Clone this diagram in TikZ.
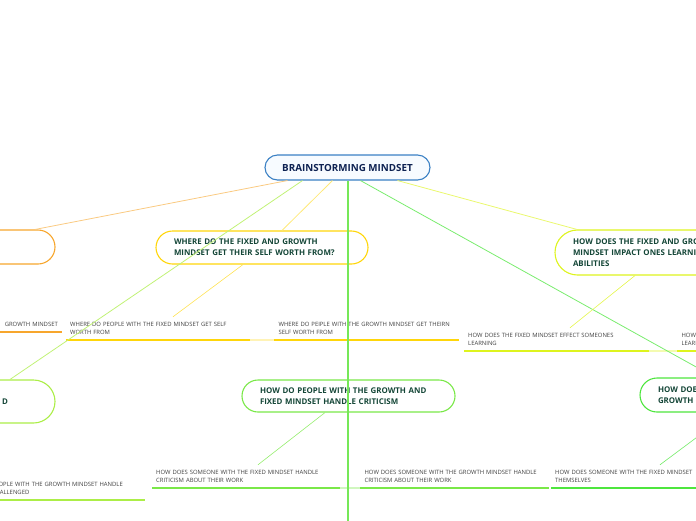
\documentclass[tikz,border=0pt]{standalone}
\usepackage{fontspec}
\setmainfont{Open Sans}
\usepackage{tikz}
\usetikzlibrary{positioning, calc}
\definecolor{rootblue}{RGB}{58, 128, 196}
\definecolor{rootfill}{RGB}{247, 251, 255}
\definecolor{rootnavy}{RGB}{14, 34, 82}
\definecolor{topicgreen}{RGB}{20, 70, 55}
\definecolor{leafgray}{RGB}{64, 64, 64}
\definecolor{branchorange}{RGB}{247, 166, 45}
\definecolor{branchyellow}{RGB}{255, 214, 10}
\definecolor{branchlime}{RGB}{222, 244, 30}
\definecolor{branchgreen}{RGB}{172, 238, 72}
\definecolor{branchmint}{RGB}{122, 232, 72}
\definecolor{branchbright}{RGB}{78, 230, 62}
\definecolor{trunkgreen}{RGB}{118, 232, 88}

\begin{document}
\begin{tikzpicture}[x=1pt, y=-1pt,
    topic/.style={draw, line width=1.1pt, fill=white, text=topicgreen,
        font=\bfseries\fontsize{7.9}{11}\selectfont, align=left,
        inner xsep=18pt, inner ysep=0pt},
    leaf/.style={text=leafgray, font=\fontsize{5.9}{8.5}\selectfont,
        align=left, inner xsep=4pt, inner ysep=5pt},
    uline/.style={line width=1.4pt},
    link/.style={line width=0.8pt}]
    \useasboundingbox (0,0) rectangle (696,520);
    \clip (0,0) rectangle (696,520);

    % central topic
    \node[draw=rootblue, line width=1.1pt, fill=rootfill, rounded corners=12.5pt,
          minimum width=165pt, minimum height=25pt, text=rootnavy,
          font=\bfseries\fontsize{9.8}{11}\selectfont] (root) at (347.5,167.5) {BRAINSTORMING MINDSET};

    % main topics
    \node[topic, draw=branchorange, rounded corners=17pt, minimum width=200pt,
          minimum height=34pt, text width=164pt] (lefttop) at (-45,247) {};
    \node[topic, draw=branchyellow, rounded corners=16.5pt, minimum width=212pt,
          minimum height=33pt, text width=176pt] (worth) at (262,247.5)
          {WHERE DO THE FIXED AND GROWTH\\MINDSET GET THEIR SELF WORTH FROM?};
    \node[topic, draw=branchlime, rounded corners=22.5pt, minimum width=234pt,
          minimum height=45pt, text width=198pt] (learn) at (672,252.5)
          {HOW DOES THE FIXED AND GROWTH\\MINDSET IMPACT ONES LEARNING\\ABILITIES};
    \node[topic, draw=branchgreen, rounded corners=21.5pt, minimum width=200pt,
          minimum height=43pt, text width=164pt, align=right] (leftlow) at (-45,401.5)
          {D\hspace*{29pt}};
    \node[topic, draw=branchmint, rounded corners=16pt, minimum width=213pt,
          minimum height=32pt, text width=177pt, fill=none] (crit) at (348.5,396)
          {HOW DO PEOPLE WITH THE GROWTH AND\\FIXED MINDSET HANDLE CRITICISM};
    \node[topic, draw=branchbright, rounded corners=17pt, minimum width=220pt,
          minimum height=34pt, text width=184pt] (rightlow) at (750,395)
          {HOW DOES\\GROWTH};

    % subtopics
    \node[leaf, anchor=south east, text width=100pt, align=right] (leftleaf) at (62,332) {GROWTH MINDSET};
    \node[leaf, anchor=south west, text width=176pt] (worthfixed) at (66,340)
          {WHERE DO PEOPLE WITH THE FIXED MINDSET GET SELF\\WORTH FROM};
    \node[leaf, text width=176pt, right=24pt of worthfixed] (worthgrowth)
          {WHERE DO PEIPLE WITH THE GROWTH MINDSET GET THEIRN\\SELF WORTH FROM};
    \node[leaf, anchor=south west, text width=177pt] (learnfixed) at (464,351)
          {HOW DOES THE FIXED MINDSET EFFECT SOMEONES\\LEARNING};
    \node[leaf, text width=177pt, right=28pt of learnfixed] (learngrowth)
          {HOW DOES THE GROWTH MINDSET\\LEARNING};
    \node[leaf, anchor=south east, text width=149pt] (leftbottom) at (145,500)
          {PEOPLE WITH THE GROWTH MINDSET HANDLE\\CHALLENGED};
    \node[leaf, anchor=south west, text width=180pt] (critfixed) at (152,488)
          {HOW DOES SOMEONE WITH THE FIXED MINDSET HANDLE\\CRITICISM ABOUT THEIR WORK};
    \node[leaf, text width=180pt, right=20pt of critfixed] (critgrowth)
          {HOW DOES SOMEONE WITH THE GROWTH MINDSET HANDLE\\CRITICISM ABOUT THEIR WORK};
    \node[leaf, anchor=south west, text width=180pt] (selfview) at (551,488)
          {HOW DOES SOMEONE WITH THE FIXED MINDSET\\THEMSELVES};
    \coordinate (below) at (347.5,540);

    % underlines
    \draw[uline, branchorange] (leftleaf.south west) -- (leftleaf.south east);
    \draw[uline, branchyellow] (worthfixed.south west) -- (worthfixed.south east);
    \draw[uline, branchyellow!30] (worthfixed.south east) -- (worthgrowth.south west);
    \draw[uline, branchyellow] (worthgrowth.south west) -- (worthgrowth.south east);
    \draw[uline, branchlime] (learnfixed.south west) -- (learnfixed.south east);
    \draw[uline, branchlime!35] (learnfixed.south east) -- (learngrowth.south west);
    \draw[uline, branchlime] (learngrowth.south west) -- (learngrowth.south east);
    \draw[uline, branchgreen] (leftbottom.south west) -- (leftbottom.south east);
    \draw[uline, branchmint] (critfixed.south west) -- (critfixed.south east);
    \draw[uline, branchmint!35] (critfixed.south east) -- (critgrowth.south west);
    \draw[uline, branchmint] (critgrowth.south west) -- (critgrowth.south east);
    \draw[uline, branchbright] (selfview.south west) -- (selfview.south east);

    % branches from the centre
    \draw[link, branchorange!60] ([xshift=-60pt]root.south) -- ([xshift=80pt]lefttop.north);
    \draw[link, branchyellow!55] ([xshift=-15pt]root.south) -- ([xshift=20pt]worth.north);
    \draw[link, branchgreen!75] ([xshift=-45pt]root.south) -- ([xshift=55pt]leftlow.north);
    \draw[line width=2pt, trunkgreen] (root.south) -- (below);
    \draw[link, branchbright!75] ([xshift=13pt]root.south) -- ([xshift=-35pt]rightlow.north);
    \draw[link, branchlime!65] ([xshift=50pt]root.south) -- ([xshift=-95pt]learn.north);

    % branches to subtopics
    \draw[line width=0.6pt, branchyellow!70] ([xshift=-19pt]worth.south) -- ([xshift=107pt]worthfixed.north west);
    \draw[line width=0.6pt, branchlime!80] ([xshift=-37pt]learn.south) -- ([xshift=106pt]learnfixed.north west);
    \draw[line width=0.6pt, branchmint!80] ([xshift=-23.5pt]crit.south) -- ([xshift=106pt]critfixed.north west);
    \draw[line width=0.6pt, branchbright!80] ([xshift=-20pt]rightlow.south) -- ([xshift=109pt]selfview.north west);
\end{tikzpicture}
\end{document}
